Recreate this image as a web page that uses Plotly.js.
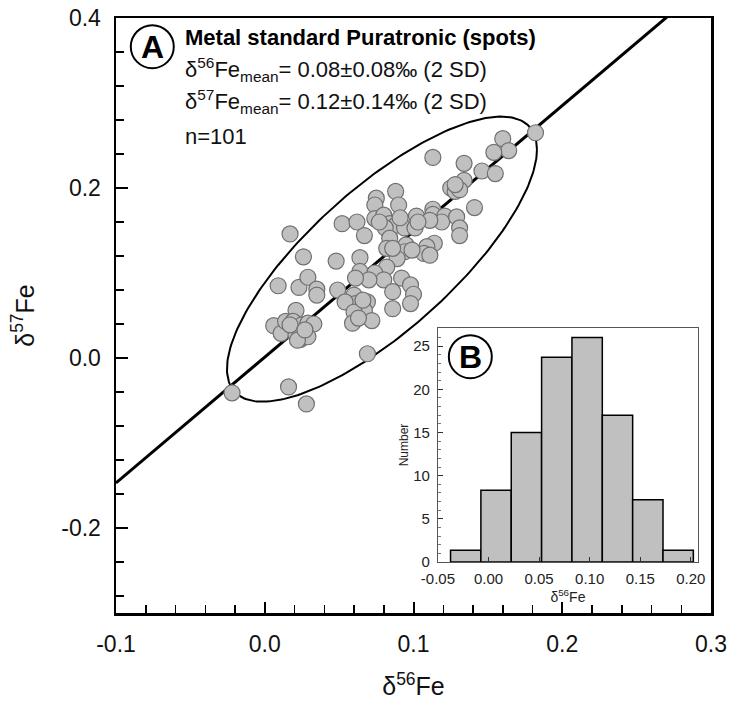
<!DOCTYPE html>
<html>
<head>
<meta charset="utf-8">
<script src="https://cdn.plot.ly/plotly-3.0.1.min.js"></script>
<style>
html,body{margin:0;padding:0;background:#fff;}
#chart{width:732px;height:706px;}
</style>
</head>
<body>
<div id="chart"></div>
<script>
// Scatter data: delta56Fe and delta57Fe of spots
const x56 = [0.182,0.160,0.164,0.154,0.113,0.134,0.146,0.155,0.134,0.125,
  0.128,0.131,0.141,0.113,0.113,0.121,0.119,0.129,0.131,0.131,
  0.114,0.109,0.102,0.111,0.052,0.062,0.067,0.075,0.074,0.088,
  0.090,0.074,0.080,0.084,0.088,0.081,0.094,0.101,0.084,0.082,
  0.095,0.094,0.089,0.082,0.107,0.111,0.048,0.064,0.064,0.074,
  0.080,0.092,0.098,0.100,0.098,0.086,0.086,0.049,0.060,0.061,
  0.069,0.067,0.054,0.060,0.072,0.059,0.069,0.017,0.026,0.070,
  0.061,0.009,0.023,0.029,0.035,0.035,0.021,0.006,0.011,0.014,
  0.019,0.025,0.029,0.033,0.021,0.024,0.029,0.016,-0.022,0.028,
  0.017,0.022,0.063,0.077,0.091,0.086,0.103,0.099,0.027,0.128,0.066];
const y57 = [0.265,0.258,0.244,0.242,0.236,0.229,0.220,0.217,0.209,0.200,
  0.196,0.198,0.177,0.175,0.169,0.167,0.160,0.166,0.153,0.144,
  0.135,0.131,0.167,0.162,0.158,0.160,0.144,0.188,0.180,0.196,
  0.180,0.164,0.168,0.158,0.156,0.153,0.153,0.153,0.141,0.129,
  0.133,0.125,0.117,0.107,0.123,0.121,0.114,0.118,0.102,0.100,
  0.092,0.094,0.086,0.075,0.064,0.078,0.058,0.080,0.074,0.064,
  0.066,0.056,0.066,0.054,0.044,0.041,0.005,0.146,0.119,0.092,
  0.094,0.085,0.083,0.095,0.081,0.074,0.056,0.038,0.029,0.043,
  0.043,0.039,0.041,0.040,0.027,0.022,0.025,-0.034,-0.041,-0.054,
  0.039,0.021,0.047,0.160,0.165,0.129,0.160,0.127,0.033,0.204,0.068];

// Regression line parameters (slope, intercept)
const lineSlope = 1.48;
const lineIntercept = 0.001;

// 2SD ellipse parameters: centre, half-extents, correlation
const ellCenter = [0.0788, 0.1163];
const ellHalf = [0.1042, 0.1677];
const ellRho = 0.77;

// Inset histogram
const binLeft = [-0.0375, -0.0075, 0.0225, 0.0525, 0.0825, 0.1125, 0.1425, 0.1725];
const binWidth = 0.03;
const binCount = [1.35, 8.3, 15.0, 23.7, 26.0, 17.0, 7.2, 1.35];

// Tick labels
const xTickVals = [-0.1, 0.0, 0.1, 0.2, 0.3];
const xTickText = ['-0.1', '0.0', '0.1', '0.2', '0.3'];
const yTickVals = [-0.2, 0.0, 0.2, 0.4];
const yTickText = ['-0.2', '0.0', '0.2', '0.4'];
const hxTickVals = [-0.05, 0.0, 0.05, 0.10, 0.15, 0.20];
const hxTickText = ['-0.05', '0.00', '0.05', '0.10', '0.15', '0.20'];
const hyTickVals = [0, 5, 10, 15, 20, 25];
const hyTickText = ['0', '5', '10', '15', '20', '25'];

const FONT = 'Liberation Sans, Arial, sans-serif';

// build ellipse outline
const ex = [], ey = [];
const sq = Math.sqrt(1 - ellRho * ellRho);
for (let i = 0; i <= 240; i++) {
  const t = 2 * Math.PI * i / 240;
  ex.push(ellCenter[0] + ellHalf[0] * Math.cos(t));
  ey.push(ellCenter[1] + ellHalf[1] * (ellRho * Math.cos(t) + sq * Math.sin(t)));
}
const lx = [xTickVals[0], xTickVals[xTickVals.length - 1]];
const ly = lx.map(v => lineSlope * v + lineIntercept);

const traces = [
  {type: 'scatter', mode: 'lines', x: lx, y: ly, line: {color: '#000', width: 3},
   hoverinfo: 'skip', showlegend: false},
  {type: 'scatter', mode: 'lines', x: ex, y: ey, line: {color: '#000', width: 2},
   hoverinfo: 'skip', showlegend: false},
  {type: 'scatter', mode: 'markers', x: x56, y: y57,
   marker: {size: 16, color: '#c0c0c0', line: {color: '#707070', width: 1.2}},
   showlegend: false},
  {type: 'bar', x: binLeft.map(b => b + binWidth / 2), y: binCount, width: binWidth,
   xaxis: 'x2', yaxis: 'y2',
   marker: {color: '#c0c0c0', line: {color: '#000', width: 1.5}}, showlegend: false}
];

const layout = {
  width: 732, height: 706,
  margin: {l: 116, r: 21, t: 18, b: 93},
  paper_bgcolor: '#fff', plot_bgcolor: '#fff',
  font: {family: FONT, color: '#000'},
  showlegend: false,
  bargap: 0,
  xaxis: {
    range: [-0.1, 0.3], tickmode: 'array', tickvals: xTickVals, ticktext: xTickText,
    ticks: 'inside', ticklen: 11, tickwidth: 2, tickcolor: '#000',
    minor: {dtick: 0.02, tick0: 0, ticks: 'inside', ticklen: 8, tickwidth: 1.5, tickcolor: '#000'},
    showline: true, linecolor: '#000', linewidth: 2.5, mirror: true,
    showgrid: false, zeroline: false,
    ticklabelstandoff: 9,
    tickfont: {size: 23, family: FONT, color: '#111'},
    title: {text: 'δ<sup>56</sup>Fe', font: {size: 25, family: FONT, color: '#111'}, standoff: 22},
    domain: [0, 1]
  },
  yaxis: {
    range: [-0.3, 0.4], tickmode: 'array', tickvals: yTickVals, ticktext: yTickText,
    ticks: 'inside', ticklen: 12, tickwidth: 2, tickcolor: '#000',
    minor: {dtick: 0.04, tick0: 0, ticks: 'inside', ticklen: 8, tickwidth: 1.5, tickcolor: '#000'},
    showline: true, linecolor: '#000', linewidth: 2.5, mirror: true,
    showgrid: false, zeroline: false,
    ticklabelstandoff: 8,
    tickfont: {size: 23, family: FONT, color: '#111'},
    title: {text: 'δ<sup>57</sup>Fe', font: {size: 25, family: FONT, color: '#111'}, standoff: 20},
    domain: [0, 1]
  },
  xaxis2: {
    domain: [0.541, 0.978], anchor: 'y2', range: [-0.05, 0.207],
    tickmode: 'array', tickvals: hxTickVals, ticktext: hxTickText,
    ticks: 'inside', ticklen: 5, tickwidth: 1, tickcolor: '#333',
    showline: true, linecolor: '#555', linewidth: 1, mirror: true,
    showgrid: false, zeroline: false,
    ticklabelstandoff: 3,
    tickfont: {size: 15, family: FONT, color: '#222'},
    title: {text: 'δ<sup>56</sup>Fe', font: {size: 14, family: FONT, color: '#222'}, standoff: 1}
  },
  yaxis2: {
    domain: [0.0857, 0.479], anchor: 'x2', range: [0, 27.1],
    tickmode: 'array', tickvals: hyTickVals, ticktext: hyTickText,
    ticks: 'inside', ticklen: 5, tickwidth: 1, tickcolor: '#333',
    minor: {dtick: 1, tick0: 0, ticks: 'inside', ticklen: 3, tickwidth: 0.8, tickcolor: '#555'},
    showline: true, linecolor: '#555', linewidth: 1, mirror: true,
    showgrid: false, zeroline: false,
    ticklabelstandoff: 4,
    tickfont: {size: 15, family: FONT, color: '#222'},
    title: {text: 'Number', font: {size: 12, family: FONT, color: '#222'}, standoff: 2}
  },
  shapes: [
    {type: 'rect', xref: 'paper', yref: 'paper', x0: 0.541, x1: 0.978, y0: 0.0857, y1: 0.479,
     fillcolor: '#fff', line: {width: 0}, layer: 'below'},
    {type: 'circle', xref: 'paper', yref: 'paper', xsizemode: 'pixel', ysizemode: 'pixel',
     xanchor: 0.061, yanchor: 0.9518, x0: -21.5, x1: 21.5, y0: -21.5, y1: 21.5,
     line: {color: '#000', width: 2}, fillcolor: 'rgba(255,255,255,0)'},
    {type: 'circle', xref: 'paper', yref: 'paper', xsizemode: 'pixel', ysizemode: 'pixel',
     xanchor: 0.5955, yanchor: 0.4308, x0: -21.5, x1: 21.5, y0: -21.5, y1: 21.5,
     line: {color: '#000', width: 2}, fillcolor: '#fff'}
  ],
  annotations: [
    {xref: 'paper', yref: 'paper', x: 0.061, y: 0.9518, text: '<b>A</b>', showarrow: false,
     xanchor: 'center', yanchor: 'middle', font: {size: 32, family: FONT, color: '#000'}},
    {xref: 'paper', yref: 'paper', x: 0.5955, y: 0.4308, text: '<b>B</b>', showarrow: false,
     xanchor: 'center', yanchor: 'middle', font: {size: 32, family: FONT, color: '#000'}},
    {xref: 'paper', yref: 'paper', x: 0.1126, y: 0.968, text: '<b>Metal standard Puratronic (spots)</b>',
     showarrow: false, xanchor: 'left', yanchor: 'middle', font: {size: 22, family: FONT, color: '#000'}},
    {xref: 'paper', yref: 'paper', x: 0.1126, y: 0.914, text: 'δ<sup>56</sup>Fe<sub>mean</sub>= 0.08±0.08‰ (2 SD)',
     showarrow: false, xanchor: 'left', yanchor: 'middle', font: {size: 22, family: FONT, color: '#111'}},
    {xref: 'paper', yref: 'paper', x: 0.1126, y: 0.859, text: 'δ<sup>57</sup>Fe<sub>mean</sub>= 0.12±0.14‰ (2 SD)',
     showarrow: false, xanchor: 'left', yanchor: 'middle', font: {size: 22, family: FONT, color: '#111'}},
    {xref: 'paper', yref: 'paper', x: 0.1126, y: 0.800, text: 'n=101',
     showarrow: false, xanchor: 'left', yanchor: 'middle', font: {size: 22, family: FONT, color: '#111'}}
  ]
};

Plotly.newPlot('chart', traces, layout, {staticPlot: true, displayModeBar: false});
</script>
</body>
</html>
